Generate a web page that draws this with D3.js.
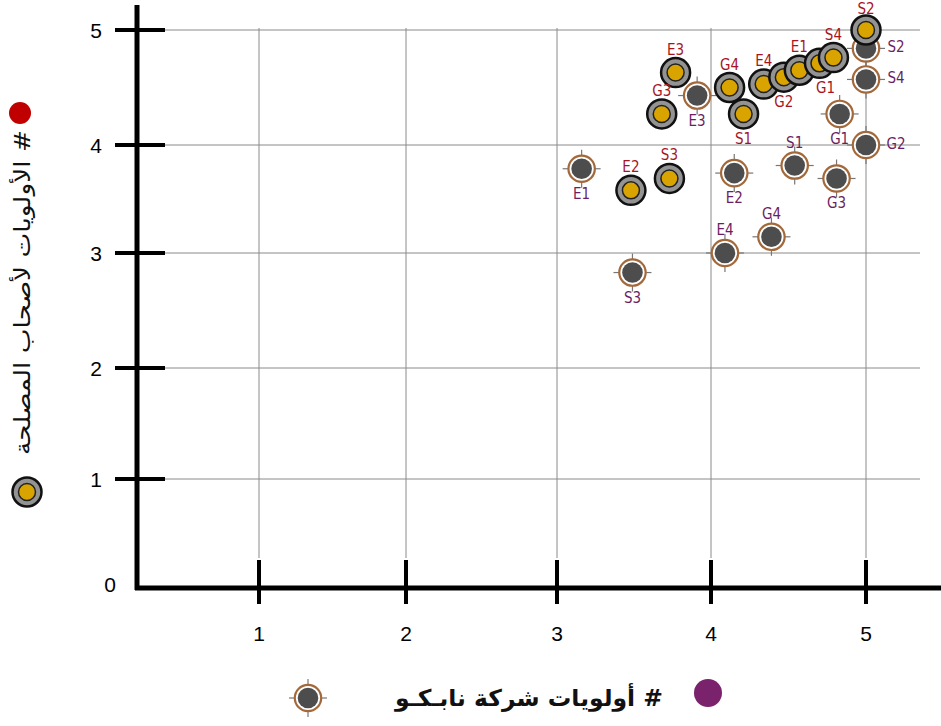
<!DOCTYPE html>
<html>
<head>
<meta charset="utf-8">
<script src="https://cdn.jsdelivr.net/npm/d3@7"></script>
<style>
  body { margin: 0; background: #fff; }
  svg { display: block; }
  .tick-label { font-family: "Liberation Sans", Arial, sans-serif; font-size: 21px; fill: #000; }
  .pt-label { font-family: "Liberation Sans Narrow", "DejaVu Sans Condensed", sans-serif; font-size: 15px; font-stretch: condensed; }
  .legend-text { font-family: "DejaVu Sans", sans-serif; font-weight: bold; fill: #111; }
</style>
</head>
<body>
<svg id="chart" width="941" height="726"></svg>
<script>
// stakeholder priorities (gold markers, red labels)
const stakeLabels = ["S2", "S4", "G1", "E1", "G2", "E4", "G4", "S1", "E3", "G3", "S3", "E2"];
const stakeX = [5.0, 4.79, 4.70, 4.57, 4.47, 4.34, 4.12, 4.21, 3.77, 3.68, 3.73, 3.48];
const stakeY = [5.0, 4.76, 4.71, 4.65, 4.59, 4.53, 4.50, 4.27, 4.63, 4.27, 3.69, 3.58];
const stakeLabelPos = ["top", "top", "bottomL", "top", "bottom", "top", "top", "bottom", "top", "top", "top", "top"];

// Nabco priorities (dark markers, purple labels)
const nabcoLabels = ["S2", "S4", "G1", "G2", "E3", "S1", "G3", "E2", "G4", "E4", "E1", "S3"];
const nabcoX = [5.0, 5.0, 4.83, 5.0, 3.91, 4.54, 4.81, 4.15, 4.39, 4.09, 3.16, 3.49];
const nabcoY = [4.84, 4.57, 4.27, 4.0, 4.43, 3.81, 3.69, 3.74, 3.15, 3.0, 3.78, 2.83];
const nabcoLabelPos = ["right", "right", "bottom", "right", "bottom", "top", "bottom", "bottom", "top", "top", "bottom", "bottom"];

const xTicks = [1, 2, 3, 4, 5];
const yTicks = [0, 1, 2, 3, 4, 5];

const svg = d3.select("#chart");

// the original plot is slightly uneven between ticks, so map each tick to where it sits
const x = d3.scaleLinear().domain([0, 1, 2, 3, 4, 5]).range([112, 259, 406, 557, 711, 866]);
const y = d3.scaleLinear().domain([0, 1, 2, 3, 4, 5]).range([587, 479, 368, 253, 145, 30]);

const x0 = 137;   // where the y-axis sits
const yAxisY = 588;

// grid
const grid = svg.append("g").attr("class", "grid");
grid.selectAll("line.h").data(yTicks.filter(d => d > 0)).enter().append("line")
    .attr("x1", x0 + 28).attr("x2", 920)
    .attr("y1", d => y(d)).attr("y2", d => y(d))
    .attr("stroke", "#8a8a8a").attr("stroke-width", 1);
grid.selectAll("line.v").data(xTicks).enter().append("line")
    .attr("x1", d => x(d)).attr("x2", d => x(d))
    .attr("y1", y(5) - 2).attr("y2", yAxisY - 30)
    .attr("stroke", "#8a8a8a").attr("stroke-width", 1);

// axes
const axes = svg.append("g").attr("class", "axes");
axes.append("line").attr("x1", x0).attr("x2", x0).attr("y1", 5).attr("y2", yAxisY + 2)
    .attr("stroke", "#000").attr("stroke-width", 5);
axes.append("line").attr("x1", x0 - 2).attr("x2", 941).attr("y1", yAxisY).attr("y2", yAxisY)
    .attr("stroke", "#000").attr("stroke-width", 5);

axes.selectAll("line.ytick").data(yTicks.filter(d => d > 0)).enter().append("line")
    .attr("x1", x0 - 22).attr("x2", x0 + 28)
    .attr("y1", d => y(d)).attr("y2", d => y(d))
    .attr("stroke", "#000").attr("stroke-width", 4);
axes.selectAll("line.xtick").data(xTicks).enter().append("line")
    .attr("x1", d => x(d)).attr("x2", d => x(d))
    .attr("y1", yAxisY - 28).attr("y2", yAxisY + 16)
    .attr("stroke", "#000").attr("stroke-width", 4);

axes.selectAll("text.ylab").data(yTicks).enter().append("text")
    .attr("class", "tick-label")
    .attr("x", d => d === 0 ? 110 : 96).attr("y", d => y(d) + (d === 0 ? -3 : 0))
    .attr("text-anchor", "middle").attr("dominant-baseline", "central")
    .text(d => d);
axes.selectAll("text.xlab").data(xTicks).enter().append("text")
    .attr("class", "tick-label")
    .attr("x", d => x(d)).attr("y", 633)
    .attr("text-anchor", "middle").attr("dominant-baseline", "central")
    .text(d => d);

// marker drawers
function nabcoMarker(g) {
    [[0, -1], [0, 1], [-1, 0], [1, 0]].forEach(([dx, dy]) => {
        g.append("line")
            .attr("x1", dx * 11).attr("y1", dy * 11)
            .attr("x2", dx * 19).attr("y2", dy * 19)
            .attr("stroke", "#777").attr("stroke-width", 1.2);
    });
    g.append("circle").attr("r", 13.2).attr("fill", "#fff")
        .attr("stroke", "#a4693a").attr("stroke-width", 2.2);
    g.append("circle").attr("r", 10.3).attr("fill", "#4d4d4d");
}

function stakeMarker(g) {
    g.append("circle").attr("r", 14.5).attr("fill", "#939393")
        .attr("stroke", "#111").attr("stroke-width", 2.5);
    g.append("circle").attr("r", 8.5).attr("fill", "#d9a300")
        .attr("stroke", "#222").attr("stroke-width", 1.5);
}

const nabcoData = nabcoLabels.map((l, i) => ({label: l, x: nabcoX[i], y: nabcoY[i], pos: nabcoLabelPos[i]}));
const stakeData = stakeLabels.map((l, i) => ({label: l, x: stakeX[i], y: stakeY[i], pos: stakeLabelPos[i]}));

function labelOffset(pos) {
    switch (pos) {
        case "top": return [0, -23];
        case "bottom": return [0, 25];
        case "bottomL": return [6, 25];
        case "right": return [30, -1];
        default: return [0, 0];
    }
}

const pts = svg.append("g").attr("class", "points");

pts.selectAll("g.nabco").data(nabcoData).enter().append("g")
    .attr("class", "nabco")
    .attr("transform", d => `translate(${x(d.x)},${y(d.y)})`)
    .each(function() { nabcoMarker(d3.select(this)); });

// stakeholder markers drawn in reverse so the upper right chain overlaps like the picture
pts.selectAll("g.stake").data(stakeData.slice().reverse()).enter().append("g")
    .attr("class", "stake")
    .attr("transform", d => `translate(${x(d.x)},${y(d.y)})`)
    .each(function() { stakeMarker(d3.select(this)); });

const labels = svg.append("g").attr("class", "labels");
labels.selectAll("text.nl").data(nabcoData).enter().append("text")
    .attr("class", "pt-label")
    .attr("x", d => x(d.x) + labelOffset(d.pos)[0])
    .attr("y", d => y(d.y) + labelOffset(d.pos)[1])
    .attr("text-anchor", "middle").attr("dominant-baseline", "central")
    .attr("fill", "#6b1f62")
    .text(d => d.label);
labels.selectAll("text.sl").data(stakeData).enter().append("text")
    .attr("class", "pt-label")
    .attr("x", d => x(d.x) + labelOffset(d.pos)[0])
    .attr("y", d => Math.max(9, y(d.y) + labelOffset(d.pos)[1]))
    .attr("text-anchor", "middle").attr("dominant-baseline", "central")
    .attr("fill", "#a8141e")
    .text(d => d.label);

// bottom legend (Nabco)
const legB = svg.append("g").attr("class", "legend-bottom");
legB.append("circle").attr("cx", 708).attr("cy", 693).attr("r", 14).attr("fill", "#7a226c");
legB.append("text").attr("class", "legend-text")
    .attr("x", 663).attr("y", 698)
    .attr("direction", "rtl").attr("text-anchor", "start")
    .attr("dominant-baseline", "central")
    .attr("textLength", 268).attr("lengthAdjust", "spacingAndGlyphs")
    .style("font-size", "23px")
    .text("# أولويات شركة نابـكـو");
nabcoMarker(legB.append("g").attr("transform", "translate(308,698)"));

// left legend (stakeholders)
const legL = svg.append("g").attr("class", "legend-left");
legL.append("circle").attr("cx", 20).attr("cy", 113).attr("r", 11).attr("fill", "#c00000");
legL.append("text").attr("class", "legend-text")
    .attr("transform", "translate(22,130) rotate(-90)")
    .attr("direction", "rtl").attr("text-anchor", "start")
    .attr("dominant-baseline", "central")
    .attr("textLength", 325).attr("lengthAdjust", "spacingAndGlyphs")
    .style("font-size", "22px").style("font-weight", "normal")
    .text("# الأولويات لأصحاب المصلحة");
stakeMarker(legL.append("g").attr("transform", "translate(27,492)"));
</script>
</body>
</html>
